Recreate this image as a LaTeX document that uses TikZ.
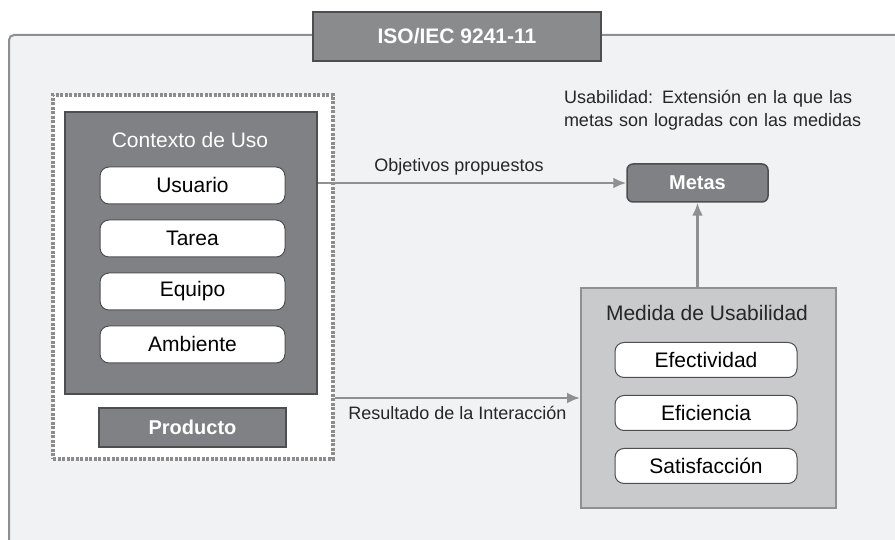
\documentclass[tikz,border=0pt]{standalone}
\usepackage{fontspec}
\setmainfont{Liberation Sans}
\usetikzlibrary{positioning,arrows.meta,calc}
\definecolor{bgfill}{HTML}{F1F2F4}
\definecolor{framegray}{HTML}{8E8F91}
\definecolor{titlefill}{HTML}{8A8B8D}
\definecolor{ctxfill}{HTML}{808184}
\definecolor{medfill}{HTML}{C9CACC}
\definecolor{linegray}{HTML}{8F9092}
\definecolor{edgegray}{HTML}{4E4E50}
\tikzset{
  darkbox/.style={rectangle, fill=ctxfill, draw=edgegray, line width=1.5pt, text=white},
  item/.style={rectangle, rounded corners=9pt, draw=edgegray, fill=white, line width=1pt, minimum width=185pt, minimum height=37pt, font=\fontsize{21}{25}\selectfont},
  connect/.style={-{Latex[length=13pt,width=11pt]}, line width=2.5pt, draw=linegray},
  lbl/.style={font=\fontsize{18}{22}\selectfont, text=black!85}
}

\begin{document}
\begin{tikzpicture}[x=1pt, y=1pt]
	\useasboundingbox (0,0) rectangle (895,540);
	% marco exterior
	\fill[bgfill] (9,-10) rectangle (905,505);
	\draw[framegray, line width=2pt, rounded corners=5pt] (9,-10) -- (9,505) -- (905,505);
	\node[darkbox, fill=titlefill, minimum width=288pt, minimum height=49pt, font=\bfseries\fontsize{21}{25}\selectfont] (norma) at (457,503.5) {ISO/IEC 9241-11};

	% producto y contexto de uso
	\node[rectangle, fill=white, draw=black!45, line width=3.5pt, dash pattern=on 3pt off 1.5pt, minimum width=280pt, minimum height=364pt] (prodgrp) at (193,263) {};
	\node[darkbox, minimum width=252pt, minimum height=282pt] (ctx) at (191,287) {};
	\node[font=\fontsize{21}{25}\selectfont, text=white] (ctxtitle) at (190,400) {Contexto de Uso};
	\node[item] (ctx_{1}) at (192.5,354.5) {Usuario};
	\foreach \t/\txt [evaluate = \t as \u using (int(\t - 1))] in {2/Tarea,3/Equipo,4/Ambiente} {
	  \node[item] (ctx_{\t}) [below=15pt of ctx_{\u}] {\txt};
	}
	\node[darkbox, minimum width=187pt, minimum height=39pt, font=\bfseries\fontsize{20}{24}\selectfont] (producto) at (192.5,112.5) {Producto};

	% medida de usabilidad
	\node[rectangle, fill=medfill, draw=linegray, line width=2pt, minimum width=255pt, minimum height=220pt] (medida) at (708.5,142) {};
	\node[font=\fontsize{21}{25}\selectfont, text=black!85] (medtitle) at (707,227) {Medida de Usabilidad};
	\node[item, minimum width=182pt, minimum height=35pt] (med_{1}) at (706,180) {Efectividad};
	\foreach \t/\txt [evaluate = \t as \u using (int(\t - 1))] in {2/Eficiencia,3/Satisfacción} {
	  \node[item, minimum width=182pt, minimum height=35pt] (med_{\t}) [below=17pt of med_{\u}] {\txt};
	}

	% metas
	\node[darkbox, rounded corners=6pt, minimum width=141pt, minimum height=38pt, font=\bfseries\fontsize{20}{24}\selectfont] (metas) at (697.5,357) {Metas};
	\node[lbl, font=\fontsize{18}{23}\selectfont, text width=300pt, align=left, inner sep=0pt] (defn) at (714,430)
	  {\makebox[\linewidth][s]{Usabilidad: Extensión en la que las}\\\makebox[\linewidth][s]{metas son logradas con las medidas}};

	\draw[connect] (ctx.east |- metas.west) -- node[lbl, above=3pt, xshift=-13pt] (objlbl) {Objetivos propuestos} (metas.west);
	\draw[connect] (metas.south |- medida.north) -- (metas.south);
	\draw[connect] (prodgrp.east |- medida.west) -- node[lbl, below=4pt] (reslbl) {Resultado de la Interacción} (medida.west);
\end{tikzpicture}
\end{document}
